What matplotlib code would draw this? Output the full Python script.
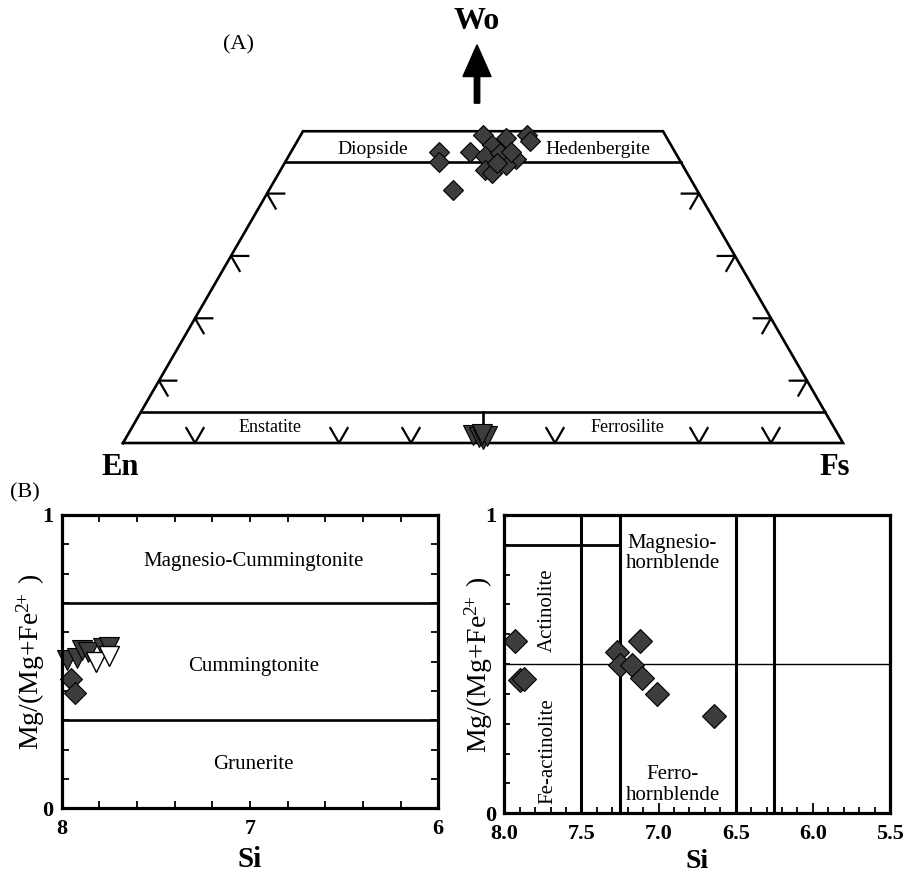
import numpy as np
import matplotlib
matplotlib.use("Agg")
import matplotlib.pyplot as plt
from matplotlib.ticker import MultipleLocator

plt.rcParams['font.family'] = ['Liberation Serif', 'DejaVu Serif']
plt.rcParams['mathtext.fontset'] = 'custom'
plt.rcParams['mathtext.rm'] = 'Liberation Serif'
plt.rcParams['mathtext.it'] = 'Liberation Serif:italic'
plt.rcParams['mathtext.bf'] = 'Liberation Serif:bold'

# ---------------- data ----------------
# (A) pyroxene compositions, mol% (Wo, En, Fs)
cpx_wo = [46.7, 45.0, 40.6, 46.6, 49.4, 47.8, 46.0, 48.9, 49.4, 48.5, 45.5, 44.6, 43.8, 43.3, 46.5, 44.9, 46.7]
cpx_en = [32.8, 33.6, 33.8, 28.5, 25.3, 24.9, 26.7, 22.3, 19.2, 19.2, 22.6, 24.5, 27.8, 27.1, 24.4, 25.6, 22.7]
cpx_fs = [20.5, 21.4, 25.6, 24.9, 25.3, 27.3, 27.3, 28.8, 31.4, 32.3, 31.9, 30.9, 28.4, 29.6, 29.1, 29.5, 30.6]
opx_wo = [1.3, 1.0, 0.6, 1.1, 1.4]
opx_en = [50.7, 50.1, 49.7, 48.9, 49.5]
opx_fs = [48.0, 48.9, 49.7, 50.0, 49.1]

# (B) left: Mg-Fe-Mn amphiboles
cum_dia_si = [7.95, 7.93]
cum_dia_mg = [0.441, 0.393]
cum_dark_si = [7.97, 7.92, 7.89, 7.86, 7.78, 7.75]
cum_dark_mg = [0.506, 0.512, 0.540, 0.533, 0.546, 0.550]
cum_open_si = [7.82, 7.75]
cum_open_mg = [0.499, 0.520]
cum_bounds = [0.3, 0.7]

# (B) right: calcic amphiboles
ca_si = [7.93, 7.90, 7.87, 7.27, 7.25, 7.17, 7.12, 7.11, 7.01, 6.64]
ca_mg = [0.579, 0.447, 0.450, 0.542, 0.497, 0.497, 0.579, 0.453, 0.400, 0.327]
ca_si_lines = [7.5, 7.25, 6.5, 6.25]

FILL = '#3d3d3d'
W, H = 906, 874
fig = plt.figure(figsize=(W / 100, H / 100), dpi=100)

# ---------------- (A) ternary ----------------
S3 = np.sqrt(3) / 2
def tern(wo, fs):
    wo = np.asarray(wo, float); fs = np.asarray(fs, float)
    return fs / 100 + wo / 200, wo / 100 * S3

y0, y1 = -0.06, 0.61
axT = fig.add_axes([123 / W, (H - (443 + 0.06 * 720)) / H, 720 / W, (y1 - y0) * 720 / H])
axT.set_xlim(0, 1)
axT.set_ylim(y0, y1)
axT.axis('off')

lw = 1.9
ox, oy = tern([0, 0, 50, 50, 0], [0, 100, 50, 0, 0])
axT.plot(ox, oy, color='black', lw=lw, solid_joinstyle='miter', clip_on=False)
for wo in (45, 5):
    lx, ly = tern([wo, wo], [0, 100 - wo])
    axT.plot(lx, ly, color='black', lw=lw)
cx, cy = tern([0, 5], [50, 47.5])
axT.plot(cx, cy, color='black', lw=lw)

L = 0.024
c60, s60 = 0.5, S3
for wo in (10, 20, 30, 40):
    px, py = tern(wo, 0)
    axT.plot([px + L, px, px + L * c60], [py, py, py - L * s60], color='black', lw=1.6)
    px, py = tern(wo, 100 - wo)
    axT.plot([px - L, px, px - L * c60], [py, py, py - L * s60], color='black', lw=1.6)
for fs in (10, 30, 40, 60, 80, 90):
    px, py = tern(0, fs)
    axT.plot([px - L * c60, px, px + L * c60], [py + L * s60, py, py + L * s60], color='black', lw=1.6)

tx, ty = tern(cpx_wo, cpx_fs)
axT.plot(tx, ty, 'D', ms=10.5, mfc=FILL, mec='black', mew=0.8, ls='none', clip_on=False)
tx, ty = tern(opx_wo, opx_fs)
axT.plot(tx, ty, 'v', ms=15, mfc=FILL, mec='black', mew=0.8, ls='none', clip_on=False)

axT.text(0.3465, 0.408, 'Diopside', fontsize=14, ha='center', va='center')
axT.text(0.659, 0.408, 'Hedenbergite', fontsize=14, ha='center', va='center')
axT.text(0.204, 0.022, 'Enstatite', fontsize=13, ha='center', va='center')
axT.text(0.700, 0.022, 'Ferrosilite', fontsize=13, ha='center', va='center')
axT.text(-0.004, -0.034, 'En', fontsize=22, fontweight='bold', ha='center', va='center')
axT.text(0.989, -0.034, 'Fs', fontsize=22, fontweight='bold', ha='center', va='center')
axT.text(0.4915, 0.585, 'Wo', fontsize=23, fontweight='bold', ha='center', va='center')
axT.text(0.160, 0.553, '(A)', fontsize=16, ha='center', va='center')
axT.arrow(0.4917, 0.472, 0, 0.081, width=0.0075, head_width=0.039, head_length=0.044,
          length_includes_head=True, color='black', clip_on=False)
fig.text(25 / W, 1 - 493 / H, '(B)', fontsize=16, ha='center', va='center')

# ---------------- (B) panels ----------------
def style(ax, xmaj, xmin, ymaj, ymin, fmt, allsides, majlen, minlen):
    for s in ax.spines.values():
        s.set_linewidth(2.3)
    ax.set_xticks(xmaj)
    ax.set_xticklabels([fmt.format(v) for v in xmaj], fontweight='bold', fontsize=16)
    ax.set_yticks(ymaj)
    ax.set_yticklabels([str(v) for v in ymaj], fontweight='bold', fontsize=16)
    ax.xaxis.set_minor_locator(MultipleLocator(xmin))
    ax.yaxis.set_minor_locator(MultipleLocator(ymin))
    ax.tick_params(which='both', direction='in', top=allsides, right=allsides, width=1.3)
    ax.tick_params(axis='x', which='both', pad=8)
    ax.tick_params(axis='y', which='both', pad=6)
    ax.tick_params(which='major', length=majlen)
    ax.tick_params(which='minor', length=minlen)

YLAB = r'Mg/(Mg+Fe$^{2\!\!+}$ )'

axL = fig.add_axes([61.7 / W, (H - 808.3) / H, 376.6 / W, 293.3 / H])
axL.set_xlim(8, 6)
axL.set_ylim(0, 1)
style(axL, [8, 7, 6], 0.2, [0, 1], 0.1, '{:d}', True, 5, 5)
for b in cum_bounds:
    axL.axhline(b, color='black', lw=1.9)
axL.plot(cum_dark_si, cum_dark_mg, 'v', ms=15, mfc=FILL, mec='black', mew=0.8, ls='none', clip_on=False)
axL.plot(cum_open_si, cum_open_mg, 'v', ms=15, mfc='white', mec='black', mew=1.0, ls='none', clip_on=False)
axL.plot(cum_dia_si, cum_dia_mg, 'D', ms=11, mfc=FILL, mec='black', mew=0.8, ls='none', clip_on=False)
axL.text(6.98, 0.84, 'Magnesio-Cummingtonite', fontsize=15, ha='center', va='center')
axL.text(6.98, 0.485, 'Cummingtonite', fontsize=15, ha='center', va='center')
axL.text(6.98, 0.148, 'Grunerite', fontsize=15, ha='center', va='center')
axL.set_ylabel(YLAB, fontsize=20)
axL.yaxis.set_label_coords(-0.04, 0.5)
axL.set_xlabel('Si', fontsize=21, fontweight='bold')
axL.xaxis.set_label_coords(0.5, -0.13)

axR = fig.add_axes([504.3 / W, (H - 813.3) / H, 385.7 / W, 298.3 / H])
axR.set_xlim(8.0, 5.5)
axR.set_ylim(0, 1)
style(axR, [8.0, 7.5, 7.0, 6.5, 6.0, 5.5], 0.1, [0, 1], 0.1, '{:.1f}', False, 7, 4)
for s in ca_si_lines:
    axR.axvline(s, color='black', lw=2.2)
axR.axhline(0.5, color='black', lw=1.0)
axR.plot([8.0, 7.25], [0.9, 0.9], color='black', lw=2.0)
axR.plot(ca_si, ca_mg, 'D', ms=12, mfc=FILL, mec='black', mew=0.8, ls='none', clip_on=False)
axR.text(6.91, 0.87, 'Magnesio-\nhornblende', fontsize=15, ha='center', va='center', linespacing=1.1)
axR.text(6.91, 0.095, 'Ferro-\nhornblende', fontsize=15, ha='center', va='center', linespacing=1.1)
axR.text(7.72, 0.68, 'Actinolite', fontsize=15, ha='center', va='center', rotation=90)
axR.text(7.72, 0.21, 'Fe-actinolite', fontsize=15, ha='center', va='center', rotation=90)
axR.set_ylabel(YLAB, fontsize=20)
axR.yaxis.set_label_coords(-0.025, 0.5)
axR.set_xlabel('Si', fontsize=20, fontweight='bold')
axR.xaxis.set_label_coords(0.5, -0.12)

fig.savefig('out.png', dpi=100)
